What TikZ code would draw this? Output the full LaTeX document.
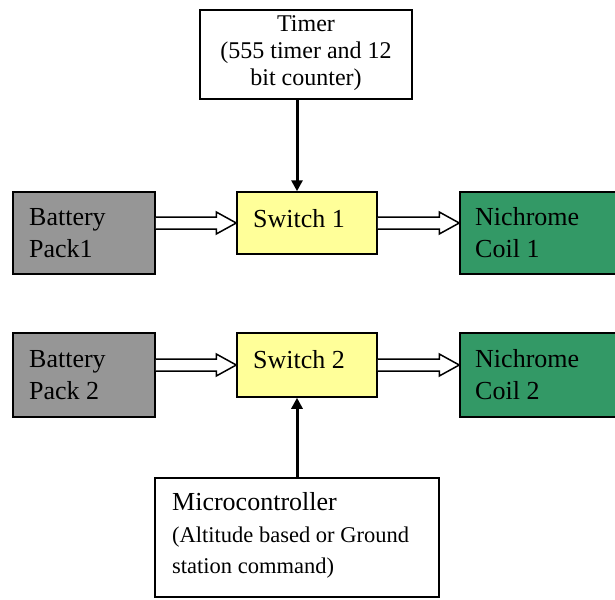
\documentclass[tikz,border=0pt]{standalone}
\usepackage{fontspec}
\setmainfont{Liberation Serif}
\usetikzlibrary{calc,arrows.meta}

\definecolor{packgrey}{HTML}{969696}
\definecolor{switchyellow}{HTML}{FFFF99}
\definecolor{coilgreen}{HTML}{339966}

\tikzset{
  blk/.style={draw=black, line width=1.5pt, inner sep=0pt, rectangle},
  packbox/.style={blk, fill=packgrey, minimum width=142pt},
  switchbox/.style={blk, fill=switchyellow, minimum width=140pt},
  coilbox/.style={blk, fill=coilgreen, minimum width=160pt},
  lbl/.style={inner sep=0pt, anchor=base west, font=\fontsize{26}{32}\selectfont},
  ctrl/.style={line width=3pt, -{Triangle[length=11pt,width=11pt]}},
  power/.style={line width=1.5pt, fill=white, line join=miter}
}

% hollow double-line arrow from #1 to #2, running at the height of switch #3
\newcommand{\powerarrow}[3]{%
  \draw[power] ($(#1.east|-#3.center)+(0,-6)$) -- ($(#2.west|-#3.center)+(-20,-6)$)
    -- ($(#2.west|-#3.center)+(-20,-11)$) -- (#2.west|-#3.center)
    -- ($(#2.west|-#3.center)+(-20,11)$) -- ($(#2.west|-#3.center)+(-20,6)$)
    -- ($(#1.east|-#3.center)+(0,6)$);}

\begin{document}
\begin{tikzpicture}[x=1pt, y=-1pt]
  \useasboundingbox (0,0) rectangle (615,599);
  \fill[white] (0,0) rectangle (615,599);

  % timer
  \node[blk, fill=white, minimum width=212pt, minimum height=89pt] (timer) at (306,54.5) {};
  \node[inner sep=0pt, anchor=base, font=\fontsize{24}{27}\selectfont] (timertxt) at (306,32)
    {\begin{tabular}[t]{@{}c@{}}Timer\\(555 timer and 12\\bit counter)\end{tabular}};

  % first channel
  \node[packbox, minimum height=82pt] (bat1) at (84,233) {};
  \node[switchbox, minimum height=62pt] (sw1) at (307,223) {};
  \node[coilbox, minimum height=82pt] (coil1) at (540,233) {};
  \node[lbl] (bat1txt) at (29,225) {\begin{tabular}[t]{@{}l@{}}Battery\\Pack1\end{tabular}};
  \node[lbl] (sw1txt) at (253,227) {Switch 1};
  \node[lbl] (coil1txt) at (475,225) {\begin{tabular}[t]{@{}l@{}}Nichrome\\Coil 1\end{tabular}};

  % second channel
  \node[packbox, minimum height=84pt] (bat2) at (84,375) {};
  \node[switchbox, minimum height=64pt] (sw2) at (307,365) {};
  \node[coilbox, minimum height=84pt] (coil2) at (540,375) {};
  \node[lbl] (bat2txt) at (29,367) {\begin{tabular}[t]{@{}l@{}}Battery\\Pack 2\end{tabular}};
  \node[lbl] (sw2txt) at (253,368) {Switch 2};
  \node[lbl] (coil2txt) at (475,367) {\begin{tabular}[t]{@{}l@{}}Nichrome\\Coil 2\end{tabular}};

  % microcontroller
  \node[blk, fill=white, minimum width=284pt, minimum height=119pt] (mcu) at (297,537.5) {};
  \node[inner sep=0pt, anchor=base west, font=\fontsize{26}{31}\selectfont] (mcutxt) at (172,510) {Microcontroller};
  \node[inner sep=0pt, anchor=base west, font=\fontsize{22.5}{31}\selectfont] (mcusub) at (172,542)
    {\begin{tabular}[t]{@{}l@{}}(Altitude based or Ground\\station command)\end{tabular}};

  % control lines
  \coordinate (cx) at (297,0);
  \draw[ctrl] (timer.south -| cx) -- (sw1.north -| cx);
  \draw[ctrl] (mcu.north -| cx) -- (sw2.south -| cx);

  % power paths
  \powerarrow{bat1}{sw1}{sw1}
  \powerarrow{sw1}{coil1}{sw1}
  \powerarrow{bat2}{sw2}{sw2}
  \powerarrow{sw2}{coil2}{sw2}
\end{tikzpicture}
\end{document}
